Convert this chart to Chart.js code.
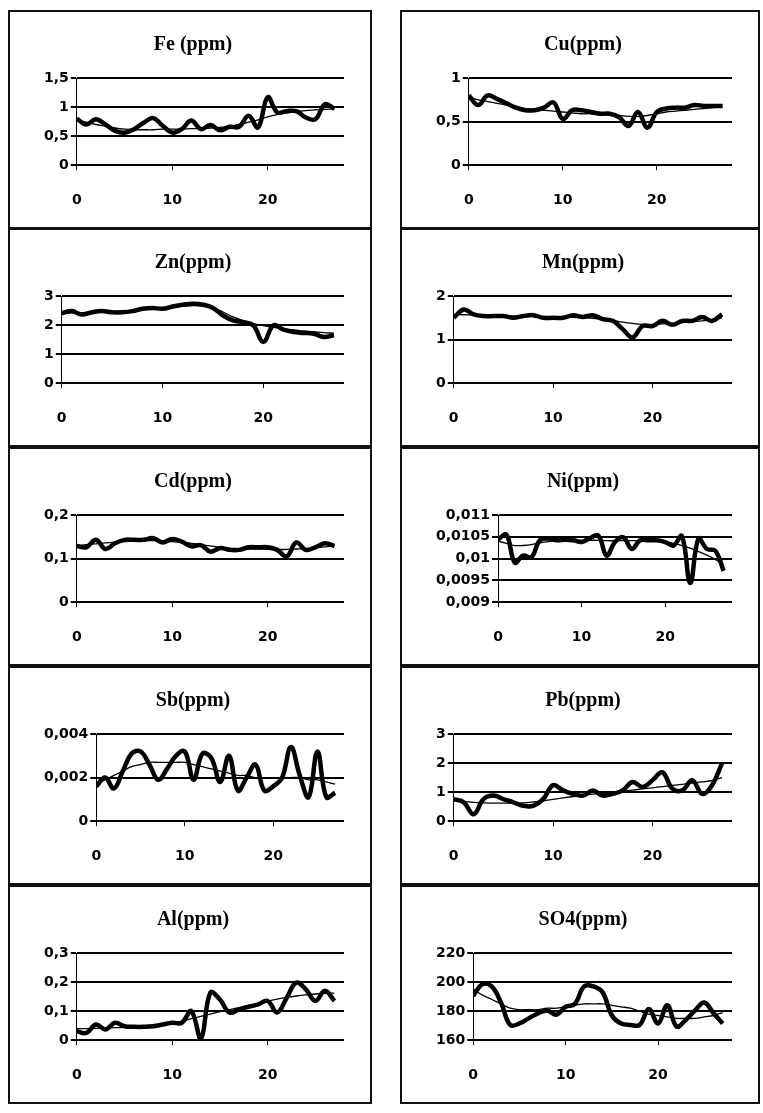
<!DOCTYPE html>
<html>
<head>
<meta charset="utf-8">
<script src="https://cdn.jsdelivr.net/npm/chart.js@4.4.1/dist/chart.umd.min.js"></script>
<style>
  body { margin: 0; background: #fff; width: 763px; height: 1113px; position: relative; overflow: hidden; }
  .panel { position: absolute; border: 2px solid #111; background: #fff; }
  .panel canvas { display: block; }
</style>
</head>
<body>
<script>
// sampling index (x axis)
const days = [0, 1, 2, 3, 4, 5, 6, 7, 8, 9, 10, 11, 12, 13, 14, 15, 16, 17, 18, 19, 20, 21, 22, 23, 24, 25, 26, 27];
const xTicks = [0, 10, 20];
const xTickLabels = ['0', '10', '20'];

const fe = [0.80, 0.70, 0.79, 0.70, 0.59, 0.56, 0.62, 0.73, 0.81, 0.68, 0.56, 0.62, 0.77, 0.62, 0.69, 0.60, 0.66, 0.66, 0.85, 0.65, 1.17, 0.91, 0.93, 0.93, 0.82, 0.79, 1.05, 0.97];
const feTrend = [0.78, 0.74, 0.70, 0.67, 0.64, 0.62, 0.61, 0.61, 0.61, 0.62, 0.62, 0.62, 0.63, 0.63, 0.64, 0.65, 0.67, 0.70, 0.74, 0.78, 0.83, 0.87, 0.90, 0.92, 0.94, 0.95, 0.96, 0.97];
const feTicks = [0, 0.5, 1, 1.5];
const feTickLabels = ['0', '0,5', '1', '1,5'];

const cu = [0.80, 0.69, 0.80, 0.76, 0.71, 0.66, 0.63, 0.63, 0.66, 0.72, 0.53, 0.63, 0.63, 0.61, 0.59, 0.59, 0.55, 0.45, 0.61, 0.43, 0.61, 0.65, 0.66, 0.66, 0.69, 0.68, 0.68, 0.68];
const cuTrend = [0.78, 0.75, 0.73, 0.71, 0.69, 0.67, 0.65, 0.64, 0.63, 0.62, 0.61, 0.60, 0.59, 0.59, 0.58, 0.58, 0.57, 0.56, 0.56, 0.57, 0.59, 0.61, 0.62, 0.63, 0.64, 0.65, 0.66, 0.67];
const cuTicks = [0, 0.5, 1];
const cuTickLabels = ['0', '0,5', '1'];

const zn = [2.41, 2.48, 2.36, 2.44, 2.48, 2.44, 2.44, 2.48, 2.56, 2.59, 2.56, 2.64, 2.70, 2.73, 2.70, 2.59, 2.33, 2.16, 2.10, 1.99, 1.42, 1.99, 1.84, 1.76, 1.73, 1.70, 1.59, 1.65];
const znTrend = [2.40, 2.42, 2.43, 2.44, 2.45, 2.46, 2.48, 2.50, 2.53, 2.56, 2.59, 2.62, 2.65, 2.67, 2.66, 2.60, 2.45, 2.28, 2.15, 2.05, 1.98, 1.92, 1.87, 1.83, 1.80, 1.77, 1.74, 1.72];
const znTicks = [0, 1, 2, 3];
const znTickLabels = ['0', '1', '2', '3'];

const mn = [1.50, 1.69, 1.58, 1.54, 1.54, 1.54, 1.50, 1.54, 1.56, 1.50, 1.50, 1.50, 1.56, 1.52, 1.56, 1.47, 1.43, 1.24, 1.05, 1.31, 1.31, 1.43, 1.34, 1.43, 1.43, 1.52, 1.43, 1.58];
const mnTrend = [1.58, 1.57, 1.56, 1.55, 1.55, 1.54, 1.54, 1.53, 1.53, 1.52, 1.52, 1.51, 1.51, 1.50, 1.49, 1.47, 1.44, 1.40, 1.37, 1.35, 1.35, 1.36, 1.37, 1.39, 1.41, 1.43, 1.46, 1.50];
const mnTicks = [0, 1, 2];
const mnTickLabels = ['0', '1', '2'];

const cd = [0.129, 0.126, 0.143, 0.122, 0.135, 0.143, 0.143, 0.143, 0.147, 0.137, 0.145, 0.139, 0.128, 0.131, 0.116, 0.124, 0.120, 0.120, 0.126, 0.126, 0.126, 0.120, 0.105, 0.137, 0.120, 0.126, 0.135, 0.129];
const cdTrend = [0.130, 0.132, 0.134, 0.136, 0.138, 0.139, 0.140, 0.141, 0.141, 0.140, 0.139, 0.137, 0.135, 0.132, 0.129, 0.126, 0.124, 0.123, 0.122, 0.122, 0.121, 0.121, 0.121, 0.122, 0.123, 0.125, 0.127, 0.129];
const cdTicks = [0, 0.1, 0.2];
const cdTickLabels = ['0', '0,1', '0,2'];

const ni = [0.01044, 0.01055, 0.00991, 0.01007, 0.01003, 0.01042, 0.01046, 0.01042, 0.01043, 0.01042, 0.01038, 0.01047, 0.01053, 0.01007, 0.01038, 0.01049, 0.01022, 0.01042, 0.01042, 0.01042, 0.01038, 0.01030, 0.01052, 0.00944, 0.01046, 0.01022, 0.01018, 0.00972];
const niTrend = [0.01040, 0.01035, 0.01030, 0.01030, 0.01032, 0.01036, 0.01039, 0.01041, 0.01042, 0.01042, 0.01042, 0.01042, 0.01042, 0.01041, 0.01041, 0.01041, 0.01041, 0.01041, 0.01041, 0.01040, 0.01038, 0.01035, 0.01030, 0.01024, 0.01016, 0.01008, 0.00998, 0.00985];
const niTicks = [0.009, 0.0095, 0.01, 0.0105, 0.011];
const niTickLabels = ['0,009', '0,0095', '0,01', '0,0105', '0,011'];

const sb = [0.0016, 0.0020, 0.0015, 0.0023, 0.0031, 0.0032, 0.0026, 0.0019, 0.0024, 0.0030, 0.0032, 0.0019, 0.0031, 0.0029, 0.0018, 0.0030, 0.0014, 0.0020, 0.0026, 0.0014, 0.0016, 0.0020, 0.0034, 0.0021, 0.0011, 0.0032, 0.0011, 0.0013];
const sbTrend = [0.0017, 0.0019, 0.0021, 0.0023, 0.0025, 0.0026, 0.0027, 0.0027, 0.0027, 0.0027, 0.0027, 0.0026, 0.0025, 0.0024, 0.0023, 0.0022, 0.0021, 0.0021, 0.0020, 0.0020, 0.0020, 0.0020, 0.0020, 0.0020, 0.0019, 0.0019, 0.0018, 0.0017];
const sbTicks = [0, 0.002, 0.004];
const sbTickLabels = ['0', '0,002', '0,004'];

const pb = [0.76, 0.65, 0.24, 0.76, 0.88, 0.76, 0.65, 0.53, 0.53, 0.76, 1.24, 1.06, 0.94, 0.88, 1.06, 0.88, 0.94, 1.06, 1.35, 1.18, 1.41, 1.68, 1.12, 1.06, 1.41, 0.94, 1.24, 2.00];
const pbTrend = [0.72, 0.68, 0.65, 0.63, 0.62, 0.62, 0.62, 0.63, 0.66, 0.70, 0.75, 0.80, 0.85, 0.89, 0.93, 0.96, 0.99, 1.03, 1.07, 1.11, 1.15, 1.19, 1.23, 1.27, 1.31, 1.35, 1.40, 1.50];
const pbTicks = [0, 1, 2, 3];
const pbTickLabels = ['0', '1', '2', '3'];

const al = [0.031, 0.025, 0.054, 0.037, 0.060, 0.048, 0.046, 0.046, 0.048, 0.054, 0.060, 0.060, 0.100, 0.005, 0.164, 0.140, 0.095, 0.106, 0.115, 0.123, 0.135, 0.095, 0.146, 0.198, 0.175, 0.135, 0.170, 0.135];
const alTrend = [0.040, 0.040, 0.041, 0.042, 0.043, 0.044, 0.046, 0.048, 0.051, 0.055, 0.060, 0.066, 0.074, 0.082, 0.090, 0.098, 0.105, 0.112, 0.120, 0.127, 0.134, 0.141, 0.147, 0.152, 0.156, 0.159, 0.161, 0.162];
const alTicks = [0, 0.1, 0.2, 0.3];
const alTickLabels = ['0', '0,1', '0,2', '0,3'];

const so4 = [190.6, 198.5, 197, 186, 170.5, 171.5, 175, 178.5, 180.5, 177.5, 183, 185, 197, 197, 193, 177, 171.5, 170.5, 170.5, 181.5, 171.5, 184, 169.5, 174, 180.5, 186, 178.5, 171.5];
const so4Trend = [195, 191, 188, 185, 182, 181, 181, 181, 182, 182, 183, 184, 185, 185, 185, 184, 183, 182, 180, 178, 177, 176, 175, 175, 175, 176, 177, 179];
const so4Ticks = [160, 180, 200, 220];
const so4TickLabels = ['160', '180', '200', '220'];

const panels = [
    { title: 'Fe (ppm)', values: fe, trend: feTrend, ticks: feTicks, labels: feTickLabels },
    { title: 'Cu(ppm)', values: cu, trend: cuTrend, ticks: cuTicks, labels: cuTickLabels },
    { title: 'Zn(ppm)', values: zn, trend: znTrend, ticks: znTicks, labels: znTickLabels },
    { title: 'Mn(ppm)', values: mn, trend: mnTrend, ticks: mnTicks, labels: mnTickLabels },
    { title: 'Cd(ppm)', values: cd, trend: cdTrend, ticks: cdTicks, labels: cdTickLabels },
    { title: 'Ni(ppm)', values: ni, trend: niTrend, ticks: niTicks, labels: niTickLabels },
    { title: 'Sb(ppm)', values: sb, trend: sbTrend, ticks: sbTicks, labels: sbTickLabels },
    { title: 'Pb(ppm)', values: pb, trend: pbTrend, ticks: pbTicks, labels: pbTickLabels },
    { title: 'Al(ppm)', values: al, trend: alTrend, ticks: alTicks, labels: alTickLabels },
    { title: 'SO4(ppm)', values: so4, trend: so4Trend, ticks: so4Ticks, labels: so4TickLabels }
];

// page layout of the 2 x 5 grid of boxes
const colLeft = [8, 400];
const colWidth = [364, 360];
const rowTop = [10, 228, 447, 666, 885];
const rowHeight = 219;

const tickFont = { family: 'DejaVu Sans', size: 14, weight: 'bold' };

function toPoints(arr) {
    return arr.map((v, i) => ({ x: days[i], y: v }));
}

function makeChart(canvas, p) {
    return new Chart(canvas.getContext('2d'), {
        type: 'line',
        data: {
            datasets: [
                { data: toPoints(p.values), borderColor: '#000', borderWidth: 4.5, tension: 0.4, pointRadius: 0, fill: false },
                { data: toPoints(p.trend), borderColor: '#000', borderWidth: 1.3, tension: 0.4, pointRadius: 0, fill: false }
            ]
        },
        options: {
            responsive: false,
            animation: false,
            layout: { padding: { left: 32, right: 26, top: 0, bottom: -4 } },
            plugins: {
                legend: { display: false },
                tooltip: { enabled: false },
                title: {
                    display: true,
                    text: p.title,
                    color: '#000',
                    font: { family: 'Liberation Serif', size: 20, weight: 'bold' },
                    padding: { top: 21, bottom: 21 }
                }
            },
            scales: {
                x: {
                    type: 'linear',
                    min: 0,
                    max: 28,
                    afterBuildTicks: s => { s.ticks = xTicks.map(v => ({ value: v })); },
                    ticks: { callback: (v, i) => xTickLabels[i], color: '#000', font: tickFont, padding: 22, maxRotation: 0, autoSkip: false },
                    grid: { drawOnChartArea: false, drawTicks: true, tickLength: 5, color: '#000', lineWidth: 1 },
                    border: { display: false }
                },
                y: {
                    min: p.ticks[0],
                    max: p.ticks[p.ticks.length - 1],
                    afterBuildTicks: s => { s.ticks = p.ticks.map(v => ({ value: v })); },
                    ticks: { callback: (v, i) => p.labels[i], color: '#000', font: tickFont, padding: 2, autoSkip: false },
                    grid: { color: '#000', lineWidth: 2, tickLength: 6 },
                    border: { display: true, color: '#000', width: 1 }
                }
            }
        }
    });
}

panels.forEach((p, i) => {
    const col = i % 2;
    const row = Math.floor(i / 2);
    const box = document.createElement('div');
    box.className = 'panel';
    box.style.left = colLeft[col] + 'px';
    box.style.top = rowTop[row] + 'px';
    box.style.width = (colWidth[col] - 4) + 'px';
    box.style.height = (rowHeight - 4) + 'px';
    const canvas = document.createElement('canvas');
    canvas.width = colWidth[col] - 4;
    canvas.height = rowHeight - 4;
    box.appendChild(canvas);
    document.body.appendChild(box);
    makeChart(canvas, p);
});
</script>
</body>
</html>
